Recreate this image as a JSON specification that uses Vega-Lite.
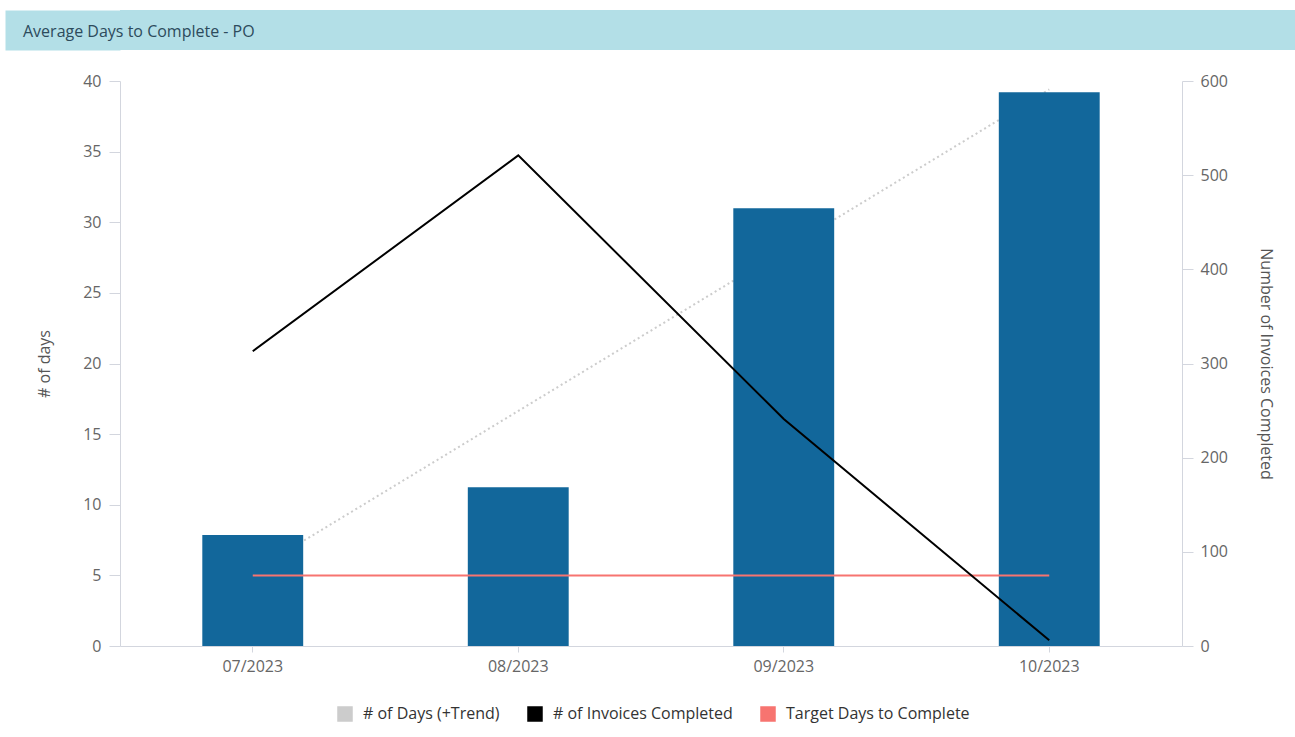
{
  "$schema": "https://vega.github.io/schema/vega-lite/v6.json",
  "padding": {"left": 23, "top": 10, "right": 0, "bottom": 0},
  "background": "white",
  "spacing": 23,
  "config": {
    "font": "Open Sans",
    "view": {"stroke": null},
    "axis": {
      "labelFont": "Open Sans",
      "labelFontSize": 16,
      "labelColor": "#666666",
      "titleFont": "Open Sans",
      "titleFontSize": 16,
      "titleFontWeight": "normal",
      "titleColor": "#555555",
      "domainColor": "#d3d6de",
      "tickColor": "#d3d6de",
      "grid": false
    },
    "legend": {
      "orient": "none",
      "legendX": 217,
      "legendY": 696,
      "direction": "horizontal",
      "symbolType": "square",
      "symbolSize": 196,
      "labelFont": "Open Sans",
      "labelFontSize": 16,
      "labelColor": "#333333",
      "labelLimit": 400,
      "labelOffset": 10,
      "columnPadding": 25
    }
  },
  "vconcat": [
    {
      "width": 1175,
      "height": 40,
      "view": {"fill": "#b3dfe7", "stroke": null},
      "title": {
        "text": "Average Days to Complete - PO",
        "anchor": "start",
        "frame": "group",
        "dx": -97,
        "offset": -38,
        "baseline": "middle",
        "fontSize": 16,
        "fontWeight": "normal",
        "font": "Open Sans",
        "color": "#2d4b5c"
      },
      "data": {"values": [{"t": "", "v": 0}]},
      "mark": {"type": "text"},
      "encoding": {
        "text": {"field": "t"},
        "y": {
          "field": "v",
          "type": "quantitative",
          "axis": {
            "title": null,
            "labels": false,
            "ticks": false,
            "domainWidth": 115,
            "domainColor": "#b3dfe7",
            "domainCap": "butt",
            "offset": 57.5
          }
        }
      }
    },
    {
      "width": 1062,
      "height": 565,
      "data": {
        "values": [
          {"month": "07/2023", "days": 7.86, "invoices": 313, "target": 5, "trend": 5.27},
          {"month": "08/2023", "days": 11.24, "invoices": 521, "target": 5, "trend": 16.64},
          {"month": "09/2023", "days": 31.0, "invoices": 241, "target": 5, "trend": 28.02},
          {"month": "10/2023", "days": 39.2, "invoices": 6, "target": 5, "trend": 39.4}
        ]
      },
      "encoding": {
        "x": {
          "field": "month",
          "type": "ordinal",
          "scale": {"paddingInner": 0.62, "paddingOuter": 0.31},
          "axis": {"title": null, "labelAngle": 0, "tickSize": 6, "labelPadding": 6}
        }
      },
      "layer": [
        {
          "layer": [
            {
              "mark": {"type": "line", "strokeDash": [2, 3], "strokeWidth": 2},
              "encoding": {
                "y": {
                  "field": "trend",
                  "type": "quantitative",
                  "scale": {"domain": [0, 40]},
                  "axis": {"title": "# of days", "values": [0, 5, 10, 15, 20, 25, 30, 35, 40], "tickSize": 11, "labelPadding": 8, "titlePadding": 30}
                },
                "color": {
                  "datum": "# of Days (+Trend)",
                  "scale": {
                    "domain": ["# of Days (+Trend)", "# of Invoices Completed", "Target Days to Complete"],
                    "range": ["#cccccc", "#000000", "#f77470"]
                  },
                  "legend": {
                    "title": null,
                    "encode": {
                      "symbols": {
                        "update": {
                          "fill": {"scale": "color", "field": "value"},
                          "stroke": {"value": "transparent"},
                          "strokeDash": {"value": []}
                        }
                      }
                    }
                  }
                }
              }
            },
            {
              "mark": {"type": "bar", "color": "#12679b"},
              "encoding": {
                "y": {
                  "field": "days",
                  "type": "quantitative",
                  "scale": {"domain": [0, 40]},
                  "axis": {"title": "# of days", "values": [0, 5, 10, 15, 20, 25, 30, 35, 40], "tickSize": 11, "labelPadding": 8, "titlePadding": 30}
                }
              }
            },
            {
              "mark": {"type": "line", "strokeWidth": 2},
              "encoding": {
                "y": {
                  "field": "target",
                  "type": "quantitative",
                  "scale": {"domain": [0, 40]},
                  "axis": {"title": "# of days", "values": [0, 5, 10, 15, 20, 25, 30, 35, 40], "tickSize": 11, "labelPadding": 8, "titlePadding": 30}
                },
                "color": {"datum": "Target Days to Complete"}
              }
            }
          ]
        },
        {
          "mark": {"type": "line", "strokeWidth": 2},
          "encoding": {
            "y": {
              "field": "invoices",
              "type": "quantitative",
              "scale": {"domain": [0, 600]},
              "axis": {"orient": "right", "title": "Number of Invoices Completed", "values": [0, 100, 200, 300, 400, 500, 600], "tickSize": 11, "labelPadding": 7, "titlePadding": 30}
            },
            "color": {"datum": "# of Invoices Completed"}
          }
        }
      ],
      "resolve": {"scale": {"y": "independent"}}
    }
  ]
}
